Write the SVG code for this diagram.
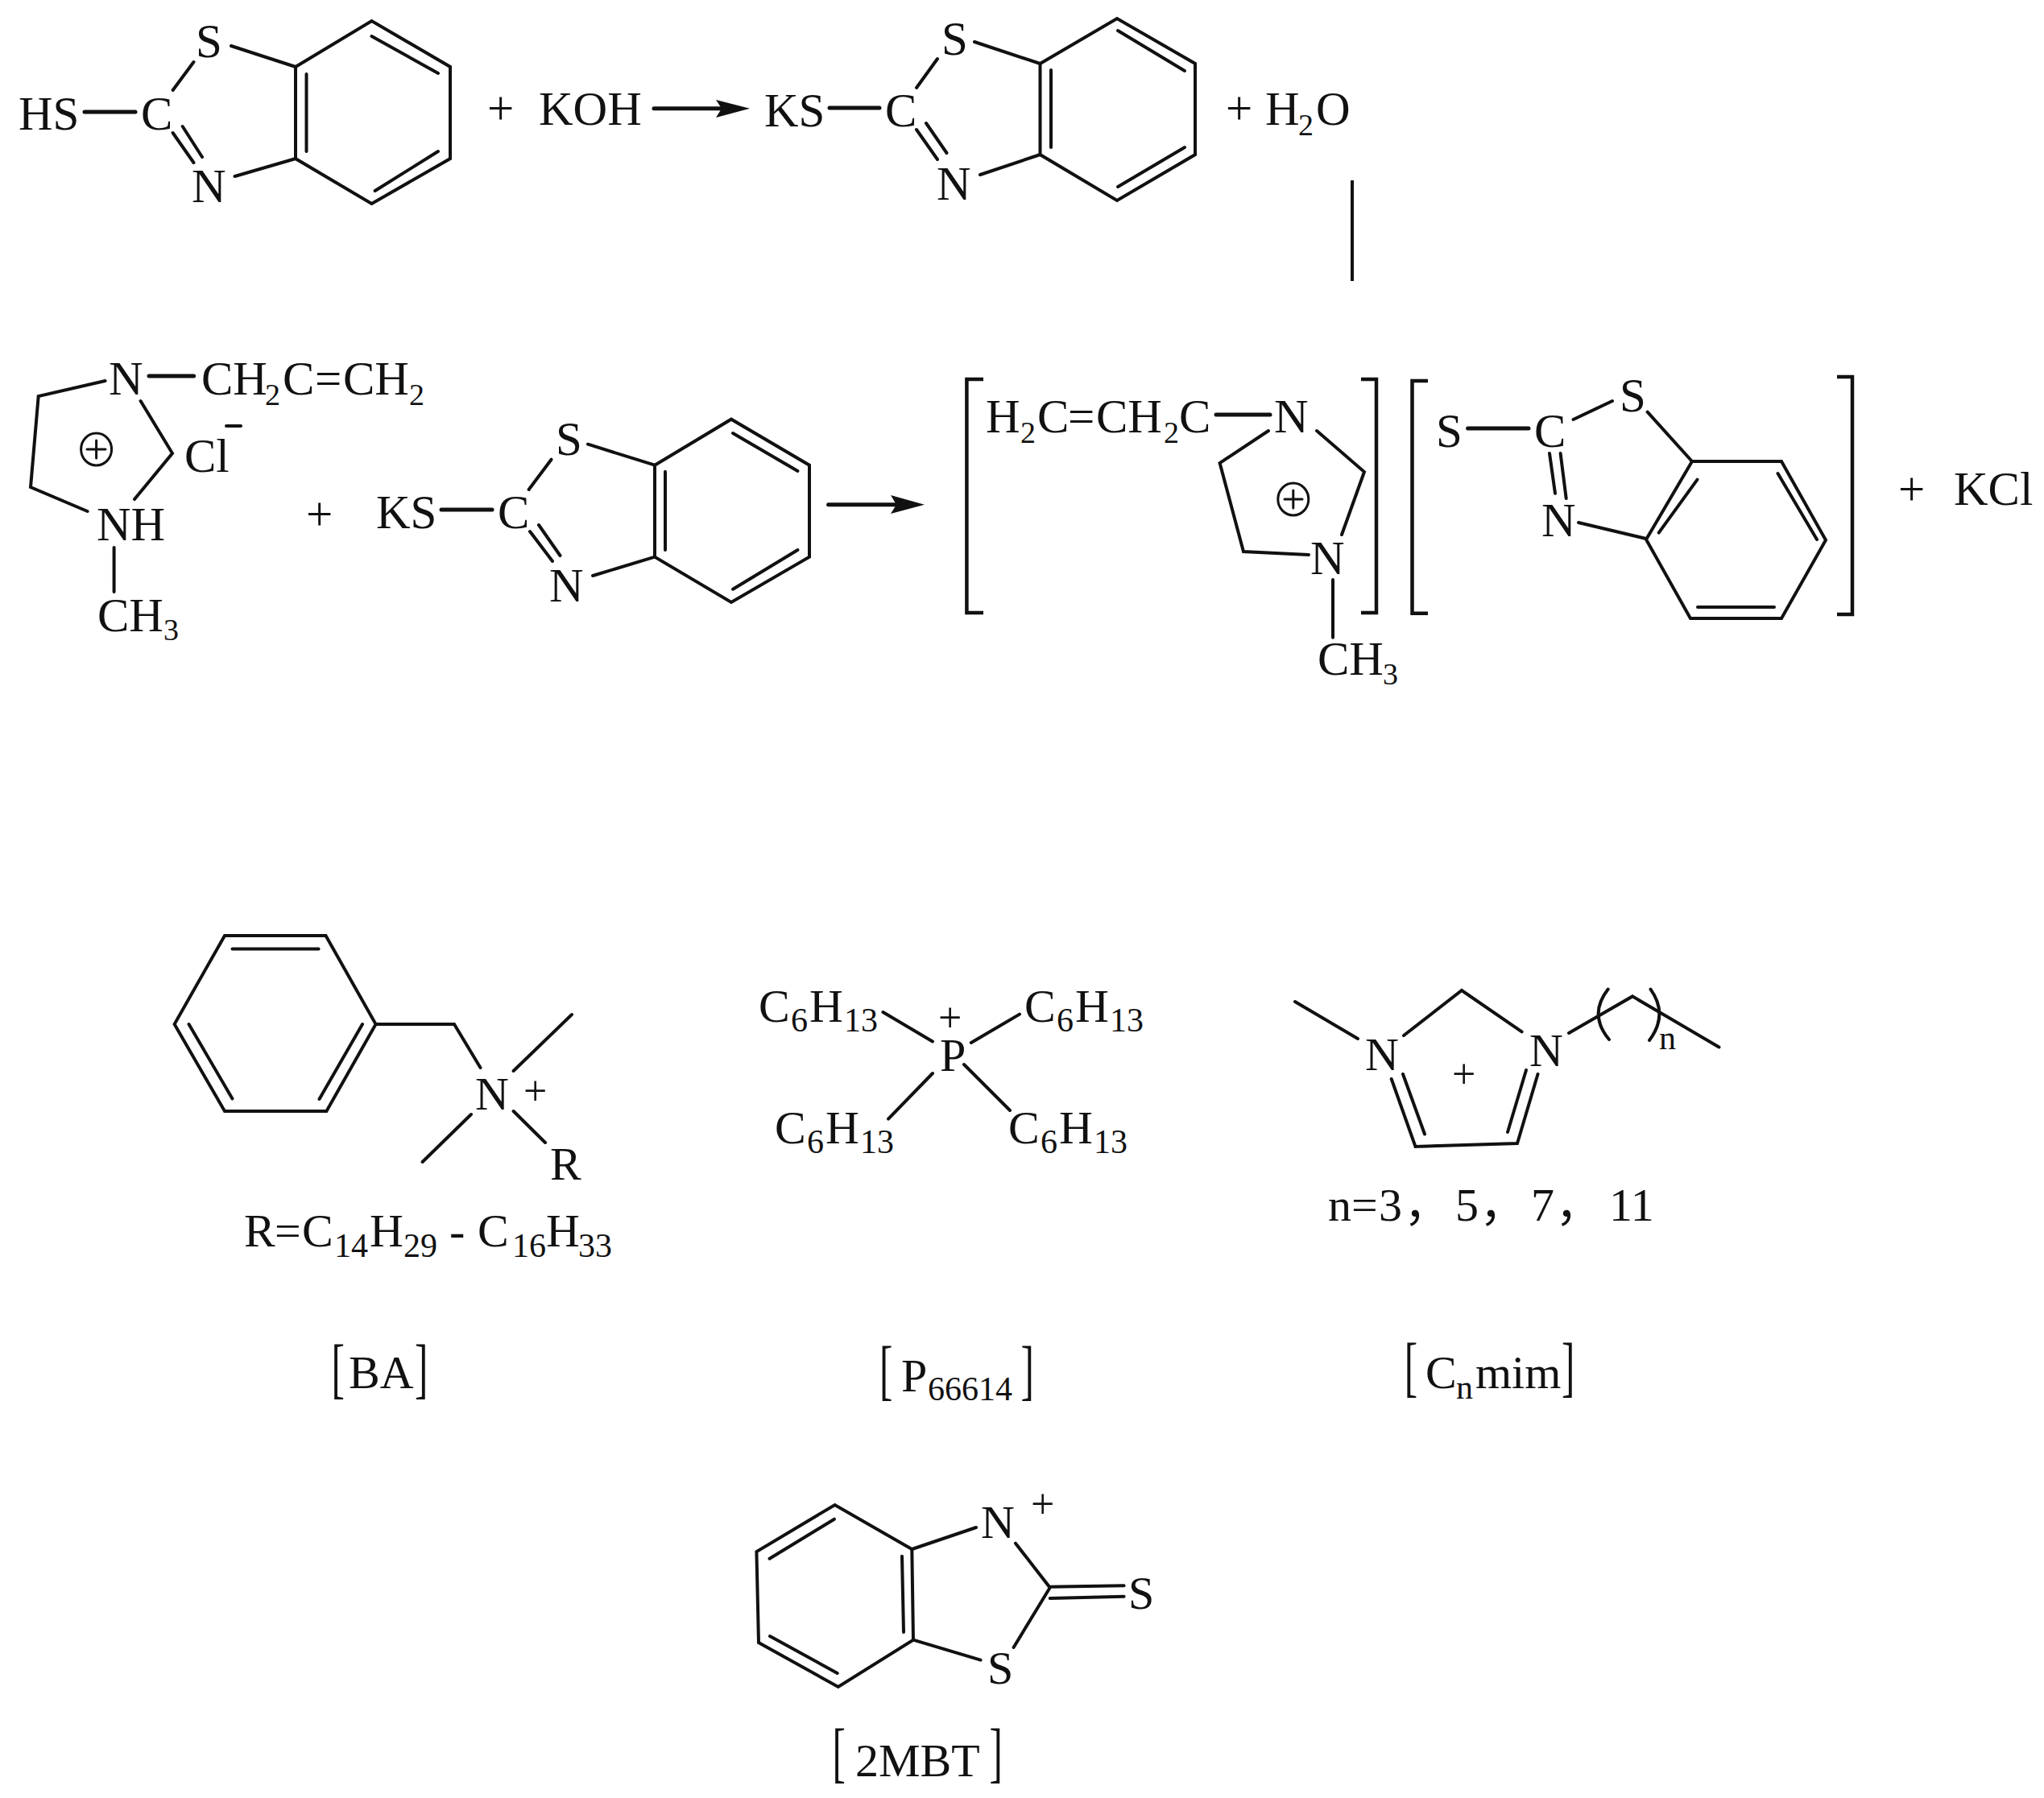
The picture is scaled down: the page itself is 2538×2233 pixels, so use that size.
<svg xmlns="http://www.w3.org/2000/svg" width="2538" height="2233" viewBox="0 0 2538 2233">
<style>
text{font-family:"Liberation Serif","Noto Sans CJK SC",serif;font-size:59px;fill:#111111}
.s{font-size:38px}
.b{font-size:58px}
.ss{font-size:42px}
.pl{font-size:52px}
.br{font-size:82px}
path,line{fill:none;stroke:#111111;stroke-width:4;stroke-linecap:round;stroke-linejoin:miter}
.t{stroke-width:5}
.f{fill:#111111;stroke:none}
.k{stroke-width:4.5;stroke-linecap:butt}
.m{stroke-width:4}
</style>
<rect width="2538" height="2233" fill="#ffffff"/>
<g id="mbt-reactant">
<path d="M367 83L461.5 26L559 83V197L461.5 253L367 197ZM461.5 45L544 91M465.6 237L544 188M380.5 92V188"/>
<path d="M287 57L367 83M240.5 77L214.6 112M214.6 165L240.5 202M226.7 157L251 195M291.5 219L367 197"/>
<path class="t" d="M105 139H168"/>
<text x="23" y="161">HS</text><text x="175" y="161">C</text><text x="243" y="71">S</text><text x="238" y="251">N</text>
</g>
<g id="koh"><text x="605" y="154">+</text><text x="669" y="155">KOH</text></g>
<g id="kmbt-product">
<path d="M1291.5 79L1387 23L1484 79V192L1387 249L1291.5 192ZM1388 38L1471 88M1388 232L1471 183M1305 87V183"/>
<path d="M1210 52L1291.5 79M1164 73L1138 109M1138 161L1164 198M1150 153L1175.5 190M1217 217L1291.5 192"/>
<path class="t" d="M1030 134H1092"/>
<text x="949" y="157">KS</text><text x="1099" y="157">C</text><text x="1169" y="68">S</text><text x="1163" y="248">N</text>
</g>
<g id="water"><text x="1522" y="154">+</text><text x="1571" y="155">H</text><text class="s" x="1612" y="168">2</text><text x="1634" y="155">O</text></g>
<g id="imidazolium-chloride">
<path d="M130.6 473L47.7 492L38 605L108.6 635M174.6 498L214 563L167 620M141.6 680V735"/>
<path class="t" d="M185 467H240.6"/>
<ellipse cx="119.6" cy="558" rx="19" ry="20" fill="none" stroke="#111111" stroke-width="3"/>
<path d="M108 558H131M119.6 547V569" style="stroke-width:3"/>
<path class="m" d="M281 529H299"/>
<text x="135" y="490">N</text>
<text y="490"><tspan x="250">CH</tspan><tspan class="s" x="329" y="503">2</tspan><tspan x="351" y="490">C</tspan><tspan x="391">=</tspan><tspan x="426">CH</tspan><tspan class="s" x="508" y="503">2</tspan></text>
<text x="229" y="586">Cl</text>
<text x="120" y="671">NH</text>
<text y="784"><tspan x="121">CH</tspan><tspan class="s" x="203" y="795">3</tspan></text>
</g>
<g id="plus-2"><text x="380" y="658">+</text></g>
<g id="kmbt-reactant">
<path d="M813 577.7L908 520.7L1005 577.7V691.7L908 748L813 691.7ZM910 538L990.5 585M910 731.7L990.5 683M826 585.7V683"/>
<path d="M730 551.7L813 577.7M684.5 570.7L656.6 608M658 660L686 697M669 652L695.5 690M736 715L813 691.7"/>
<path class="t" d="M548 633H611"/>
<text x="467" y="656">KS</text><text x="618" y="656">C</text><text x="690" y="565">S</text><text x="682" y="747">N</text>
</g>
<g id="ionic-liquid-cation">
<path class="k" d="M1221 471H1200.4V761H1221M1690 471H1709V761H1690"/>
<path d="M1575 535L1514.6 575L1544 685L1625 689M1635 535L1694 586L1666 664M1655 720V791.7"/>
<path class="t" d="M1510 515H1577"/>
<ellipse cx="1605.8" cy="620" rx="19" ry="20" fill="none" stroke="#111111" stroke-width="3"/>
<path d="M1595 620H1617M1605.8 609V631" style="stroke-width:3"/>
<text y="537"><tspan x="1224">H</tspan><tspan class="s" x="1267" y="550">2</tspan><tspan x="1288" y="537">C</tspan><tspan x="1326">=</tspan><tspan x="1361">CH</tspan><tspan class="s" x="1445" y="550">2</tspan><tspan x="1464" y="537">C</tspan></text>
<text x="1582" y="537">N</text><text x="1627" y="713">N</text>
<text y="838"><tspan x="1636">CH</tspan><tspan class="s" x="1717" y="850">3</tspan></text>
</g>
<g id="ionic-liquid-anion">
<path class="k" d="M1773 473H1753.5V761.7H1773M2281 468H2300V763H2281"/>
<path d="M2101 573H2212L2267 670.7L2212 768H2099L2044 670ZM2107.5 595.7L2059.7 661.7M2207.5 588L2256 670M2108 754H2203"/>
<path d="M1953.5 521L2002 498M2045.6 511.7L2101 573M1924 563L1931 612.7M1937.6 563L1944.7 619M1960 649L2044 669"/>
<path class="t" d="M1822.6 532H1898"/>
<text x="1783" y="555">S</text><text x="1905" y="555">C</text><text x="2011" y="511">S</text><text x="1914" y="666">N</text>
</g>
<g id="kcl"><text x="2357" y="627">+</text><text x="2426" y="627">KCl</text></g>
<g id="connectors">
<path class="t" d="M812 134.7H895"/><path class="f" d="M889 124L931 134.7L889 146L896 134.7Z"/>
<line x1="1679" y1="224" x2="1679" y2="349" style="stroke-linecap:butt"/>
<path class="t" d="M1028.6 626.7H1112"/><path class="f" d="M1106 615L1148 626.7L1106 638L1113 626.7Z"/>
</g>
<g id="ba">
<path d="M279 1162H404.5L466.6 1272L405.4 1380H279L216.6 1272ZM288.5 1178.5H395.6M234.5 1272L288.5 1364.4M450 1272L396.5 1365"/>
<path d="M466.6 1272H564L596.5 1326M637.6 1330L710 1260M585 1384L524.6 1443M637.6 1380L677 1419"/>
<text class="b" x="590" y="1378">N</text><text class="pl" x="650" y="1372">+</text><text class="b" x="683" y="1465">R</text>
<text class="b" y="1548"><tspan x="303">R</tspan><tspan x="341">=</tspan><tspan x="375">C</tspan><tspan class="ss" x="415" y="1561">14</tspan><tspan x="459" y="1548">H</tspan><tspan class="ss" x="501" y="1561">29</tspan><tspan x="558" y="1548">-</tspan><tspan x="593">C</tspan><tspan class="ss" x="636" y="1561">16</tspan><tspan x="678" y="1548">H</tspan><tspan class="ss" x="718" y="1561">33</tspan></text>
<text class="br" transform="translate(411.4 1727) scale(.6 1)">[</text><text class="b" x="433" y="1724">BA</text><text class="br" transform="translate(515 1727) scale(.6 1)">]</text>
</g>
<g id="p66614">
<path d="M1096.4 1257L1158 1293.5M1205.8 1295L1266 1259.6M1158 1333L1103 1389.6M1197 1322L1254 1379"/>
<text class="b" x="1167" y="1330">P</text><text class="pl" x="1165" y="1281">+</text>
<text class="b" y="1269"><tspan x="942">C</tspan><tspan class="ss" x="982" y="1281">6</tspan><tspan x="1005" y="1269">H</tspan><tspan class="ss" x="1048" y="1281">13</tspan></text>
<text class="b" y="1269"><tspan x="1272">C</tspan><tspan class="ss" x="1312" y="1281">6</tspan><tspan x="1335" y="1269">H</tspan><tspan class="ss" x="1378" y="1281">13</tspan></text>
<text class="b" y="1420"><tspan x="962">C</tspan><tspan class="ss" x="1002" y="1432">6</tspan><tspan x="1025" y="1420">H</tspan><tspan class="ss" x="1068" y="1432">13</tspan></text>
<text class="b" y="1420"><tspan x="1252">C</tspan><tspan class="ss" x="1292" y="1432">6</tspan><tspan x="1315" y="1420">H</tspan><tspan class="ss" x="1358" y="1432">13</tspan></text>
<text class="br" transform="translate(1092 1729) scale(.6 1)">[</text><text y="1728"><tspan class="b" x="1119">P</tspan><tspan class="ss" x="1152" y="1739">66614</tspan></text><text class="br" transform="translate(1267.5 1729) scale(.6 1)">]</text>
</g>
<g id="cnmim">
<path d="M1608 1244L1686 1290M1743 1286L1815 1230L1889.6 1281.4M1727.7 1340L1757.5 1424L1884 1420L1909.5 1334M1742 1334L1769 1408.5M1872 1406L1895 1329M1948 1283L2027 1237.4L2134.5 1300.5"/>
<path d="M1996.7 1228.6Q1972 1260 1998 1291M2049.5 1228.6Q2072 1260 2048 1292"/>
<text class="b" x="1695" y="1329">N</text><text class="b" x="1899" y="1323.5">N</text><text class="pl" x="1803" y="1351">+</text>
<text class="ss" x="2060" y="1302.5">n</text>
<text class="b" y="1516"><tspan x="1649">n</tspan><tspan x="1678">=</tspan><tspan x="1712">3</tspan><tspan x="1743">，</tspan><tspan x="1807">5</tspan><tspan x="1837">，</tspan><tspan x="1901">7</tspan><tspan x="1931">，</tspan><tspan x="1998">11</tspan></text>
<text class="br" transform="translate(1743.7 1725) scale(.6 1)">[</text><text y="1724"><tspan class="b" x="1770">C</tspan><tspan class="ss" x="1808" y="1737">n</tspan><tspan class="b" x="1832" y="1724">mim</tspan></text><text class="br" transform="translate(1939 1725) scale(.6 1)">]</text>
</g>
<g id="mbt-2">
<path d="M1132.3 1924L1036.6 1869L939.4 1927L942 2040L1040.8 2095L1134 2036.7ZM1035.9 1886.7L955.5 1935.7M956 2032L1039.7 2078M1120 1932.7L1122 2027"/>
<path d="M1132.3 1924L1212 1897M1261 1916.7L1303.7 1971.7L1258.6 2046M1134 2036.7L1217.6 2061.7M1303.7 1970.7L1395.6 1969.3M1303.7 1985L1395.6 1982.7"/>
<text class="b" x="1218" y="1909.7">N</text><text class="pl" x="1280" y="1885">+</text><text class="b" x="1226" y="2091">S</text><text class="b" x="1401" y="1998">S</text>
<text class="br" transform="translate(1033.5 2204) scale(.6 1)">[</text><text class="b" x="1062" y="2206">2MBT</text><text class="br" transform="translate(1228.6 2204) scale(.6 1)">]</text>
</g>
</svg>
